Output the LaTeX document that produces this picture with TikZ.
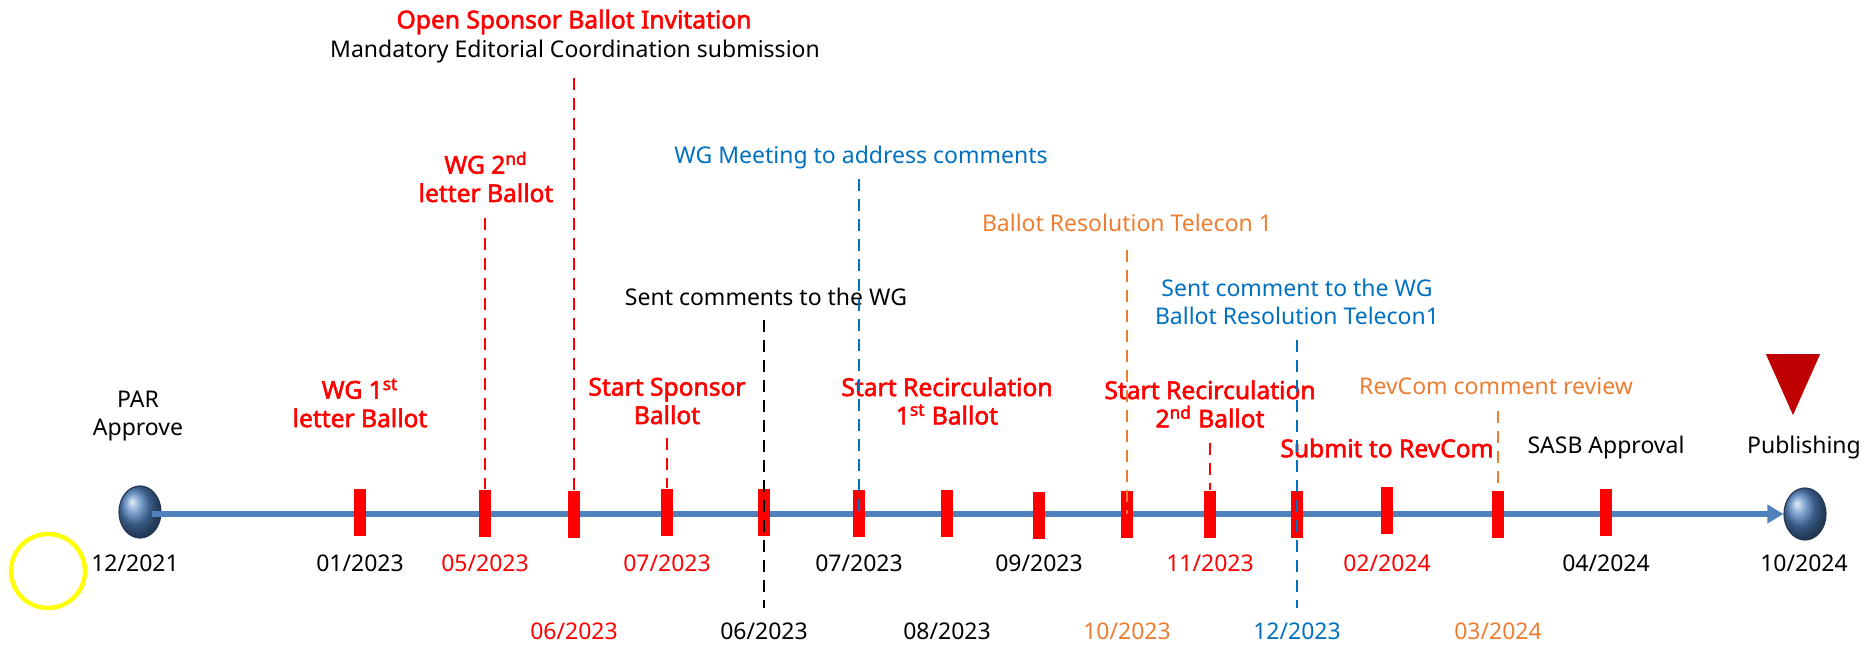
\documentclass[tikz,border=0pt]{standalone}
\usepackage{fontspec}
\setmainfont{Noto Sans}[BoldFont={Noto Sans}, BoldFeatures={FakeBold=2.2}]
\usetikzlibrary{arrows.meta,shapes.geometric}
\definecolor{axisblue}{RGB}{79,129,189}
\definecolor{mred}{RGB}{255,0,0}
\definecolor{mblue}{RGB}{0,112,192}
\definecolor{morange}{RGB}{237,125,49}
\definecolor{pubred}{RGB}{192,0,0}
\definecolor{ballrim}{RGB}{38,58,88}
\begin{document}
\begin{tikzpicture}[x=0.5pt,y=-0.5pt,
  txt/.style={font=\fontsize{11.5}{14}\selectfont, align=center, inner sep=0pt},
  bold/.style={font=\fontsize{12.3}{14.2}\selectfont\bfseries, align=center, inner sep=0pt, text=mred},
  stone/.style={rectangle, fill=mred, minimum width=6pt, minimum height=23.5pt, inner sep=0pt},
  ball/.style={ellipse, minimum width=21pt, minimum height=26pt, inner sep=0pt,
    shading=ball, ball color=axisblue, draw=ballrim, line width=0.6pt},
  axis/.style={draw=axisblue, line width=2.75pt, -{Triangle[length=8pt,width=9pt]}},
  guide/.style={line width=1pt, dash pattern=on 6pt off 4pt}
]
\useasboundingbox (0,0) rectangle (1870,649);

% timeline with end points
\node[ball] (start) at (140,512) {};
\node[ball] (finish) at (1805,514) {};
\draw[axis] (start.center) ++(12,2) coordinate (axstart) (axstart) -- (finish.west);

% marker circle and publishing triangle
\node[circle, draw={rgb,255:red,255;green,255;blue,0}, line width=2.2pt, minimum size=37pt, inner sep=0pt] (mark) at (48,571) {};
\node[isosceles triangle, shape border rotate=-90, isosceles triangle apex angle=48,
  fill=pubred, inner sep=0pt, minimum height=30.5pt, anchor=apex] (pub) at (1793,416) {};

% milestones on the timeline
\node[stone] (t1) at (360,512) {};
\node[stone] (t2) at (485,513) {};
\node[stone] (t3) at (574,514) {};
\node[stone] (t4) at (667,512) {};
\node[stone] (t5) at (764,512) {};
\node[stone] (t6) at (859,513) {};
\node[stone] (t7) at (947,513) {};
\node[stone] (t8) at (1039,515) {};
\node[stone] (t9) at (1127,514) {};
\node[stone] (t10) at (1210,514) {};
\node[stone] (t11) at (1297,514) {};
\node[stone] (t12) at (1387,510) {};
\node[stone] (t13) at (1498,514) {};
\node[stone] (t14) at (1606,512) {};

% dates, first row
\node[txt] (d0) at (135,563) {12/2021};
\node[txt] (d1) at (360,563) {01/2023};
\node[txt, text=mred] (d2) at (485,563) {05/2023};
\node[txt, text=mred] (d4) at (667,563) {07/2023};
\node[txt] (d6) at (859,563) {07/2023};
\node[txt] (d8) at (1039,563) {09/2023};
\node[txt, text=mred] (d10) at (1210,563) {11/2023};
\node[txt, text=mred] (d12) at (1387,563) {02/2024};
\node[txt] (d14) at (1606,563) {04/2024};
\node[txt] (d15) at (1804,563) {10/2024};
% dates, second row
\node[txt, text=mred] (d3) at (574,631) {06/2023};
\node[txt] (d5) at (764,631) {06/2023};
\node[txt] (d7) at (947,631) {08/2023};
\node[txt, text=morange] (d9) at (1127,631) {10/2023};
\node[txt, text=mblue] (d11) at (1297,631) {12/2023};
\node[txt, text=morange] (d13) at (1498,631) {03/2024};

% event labels
\node[txt] (par) at (138,416) {PAR\\Approve};
\node[bold] (wg1) at (360,403) {WG 1\textsuperscript{st}\\letter Ballot};
\node[bold] (wg2) at (486,177) {WG 2\textsuperscript{nd}\\letter Ballot};
\node[bold] (open) at (574,22) {Open Sponsor Ballot Invitation};
\node[txt] (edit) at (575,52) {Mandatory Editorial Coordination submission};
\node[bold] (ssb) at (667,401) {Start Sponsor\\Ballot};
\node[txt] (sent) at (766,297) {Sent comments to the WG};
\node[txt, text=mblue] (meet) at (861,158) {WG Meeting to address comments};
\node[bold] (rc1) at (947,401) {Start Recirculation\\1\textsuperscript{st} Ballot};
\node[txt, text=morange] (brt) at (1127,223) {Ballot Resolution Telecon 1};
\node[bold] (rc2) at (1210,404) {Start Recirculation\\2\textsuperscript{nd} Ballot};
\node[txt, text=mblue] (sent2) at (1297,302) {Sent comment to the WG\\Ballot Resolution Telecon1};
\node[bold] (rev) at (1387,448) {Submit to RevCom};
\node[txt, text=morange] (rcr) at (1496,386) {RevCom comment review};
\node[txt] (sasb) at (1606,448) {SASB Approval};
\node[txt] (publ) at (1804,448) {Publishing};

% dashed guides
\coordinate (g2) at (485,218);
\coordinate (g3) at (574,78);
\coordinate (g4) at (667,438);
\coordinate (g5a) at (764,320);
\coordinate (g5b) at (764,608);
\coordinate (g6) at (859,179);
\coordinate (g9) at (1127,250);
\coordinate (g10) at (1210,443);
\coordinate (g11a) at (1297,340);
\coordinate (g11b) at (1297,608);
\coordinate (g13) at (1498,411);
\draw[guide, mred] (g2) -- (t2.north);
\draw[guide, mred] (g3) -- (t3.north);
\draw[guide, mred] (g4) -- (t4.north);
\draw[guide, black] (g5a) -- (g5b);
\draw[guide, mblue] (g6) -- (t6.center);
\draw[guide, morange] (g9) -- (t9.center);
\draw[guide, mred] (g10) -- (t10.north);
\draw[guide, mblue] (g11a) -- (g11b);
\draw[guide, morange] (g13) -- (t13.north);
\end{tikzpicture}
\end{document}
